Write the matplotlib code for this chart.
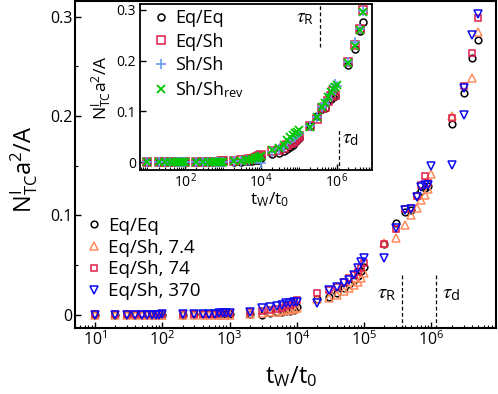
import matplotlib
matplotlib.use('Agg')
import numpy as np
import matplotlib.pyplot as plt
from matplotlib.ticker import (LogLocator, LogFormatterMathtext, FixedLocator,
                               FuncFormatter, NullFormatter)

plt.rcParams['font.family'] = ['Open Sans', 'DejaVu Sans']
plt.rcParams['mathtext.fontset'] = 'stix'

nan = float('nan')

# ---------------- data ----------------
mantissas = [1, 2, 3, 4, 5, 6, 7, 8, 9]
decades = [1, 2, 3, 4, 5]
t_main = [m * 10.0 ** e for e in decades for m in mantissas] + [1e6, 2e6, 3e6, 4e6, 5e6]

eq_eq = [0, 0, 0, 0, 0, 0, 0, 0, 0,
         0, 0, 0.0005, 0.0005, 0.001, 0.001, 0.001, 0.001, 0.001,
         0.001, 0.001, 0.0, 0.002, 0.003, 0.003, 0.004, 0.004, 0.005,
         0.008, 0.016, 0.0184, 0.0224, 0.027, 0.031, 0.035, 0.039, 0.044,
         0.048, 0.071, 0.092, 0.104, 0.106, 0.121, 0.125, 0.128, 0.130,
         nan, 0.192, 0.2235, 0.258, 0.276]

eq_sh_7 = [0, 0, 0, 0, 0, 0, 0, 0, 0,
           0, 0, 0, 0, 0, 0, 0, 0, 0,
           0.0, 0.001, 0.002, 0.003, 0.003, 0.004, 0.005, 0.005, 0.006,
           0.007, 0.016, 0.017, 0.020, 0.024, 0.027, 0.030, 0.033, 0.037,
           0.042, 0.072, 0.077, 0.0905, 0.100, 0.108, 0.116, 0.121, 0.127,
           0.142, 0.200, nan, 0.2385, 0.284]

eq_sh_74 = [0.0005, 0.0005, 0.0005, 0.0005, 0.0005, 0.0005, 0.0005, 0.0005, 0.0005,
            0.0005, 0.0005, 0.001, 0.001, 0.001, 0.001, 0.0015, 0.0015, 0.002,
            0.002, 0.003, 0.004, 0.005, 0.006, 0.007, 0.009, 0.010, 0.012,
            0.015, 0.0218, 0.025, 0.028, 0.0335, 0.037, 0.040, 0.0435, 0.047,
            0.052, 0.071, 0.086, 0.107, 0.108, 0.120, 0.131, 0.1395, 0.133,
            nan, 0.198, 0.230, 0.263, 0.299]

t_370 = t_main + [3e6]
eq_sh_370 = [0, 0, 0, 0, 0, 0, 0, 0, 0,
             0.0005, 0.0005, 0.001, 0.001, 0.001, 0.001, 0.0015, 0.002, 0.002,
             0.002, 0.003, 0.0067, 0.0083, 0.009, 0.0105, 0.0118, 0.0125, 0.013,
             0.0134, 0.0118, 0.025, 0.0285, 0.0318, 0.035, 0.040, 0.047, 0.0536,
             0.057, 0.057, 0.087, 0.1055, 0.107, 0.119, 0.129, 0.131, 0.131,
             0.150, 0.151, 0.228, 0.281, 0.3025, 0.201]

# inset
t_inset = t_main
in_eq_eq = eq_eq
in_eq_sh = eq_sh_74
in_sh_sh = [0, 0, 0, 0, 0, 0, 0, 0, 0,
            0, 0, 0, 0, 0, 0, 0, 0, 0,
            0.001, 0.002, 0.003, 0.004, 0.005, 0.006, 0.007, 0.008, 0.009,
            -0.002, 0.020, 0.026, 0.031, 0.038, 0.043, 0.047, 0.050, 0.054,
            0.058, 0.071, 0.090, 0.108, 0.114, 0.125, 0.135, 0.142, 0.155,
            0.150, 0.198, 0.237, 0.262, 0.297]
in_sh_rev = [0, 0, 0, 0, 0, 0, 0, 0, 0,
             0, 0, 0, 0, 0, 0, 0, 0, 0,
             0.001, 0.002, 0.003, 0.004, 0.005, 0.007, 0.008, 0.009, 0.010,
             0.012, 0.024, 0.028, 0.034, 0.044, 0.049, 0.054, 0.058, 0.060,
             0.064, 0.070, 0.090, 0.109, 0.116, 0.129, 0.139, 0.145, 0.148,
             0.152, 0.196, 0.228, 0.260, 0.2965]

tau_R = 3.6e5
tau_d = 1.15e6

main_labels = ['Eq/Eq', 'Eq/Sh, 7.4', 'Eq/Sh, 74', 'Eq/Sh, 370']
inset_labels = ['Eq/Eq', 'Eq/Sh', 'Sh/Sh', r'Sh/Sh$_{\mathregular{rev}}$']

c_black = 'black'
c_orange = '#FF8C5C'
c_red = '#DC1E4B'
c_blue = '#0A0AF0'
c_cblue = '#6A9AF0'
c_green = '#00C800'

W, H = 498, 394
fig = plt.figure(figsize=(W / 100, H / 100), dpi=100)

def px_axes(x0, y0, x1, y1):
    return [x0 / W, 1 - y1 / H, (x1 - x0) / W, (y1 - y0) / H]

yfmt = FuncFormatter(lambda v, p: '0' if abs(v) < 1e-9 else f'{v:g}')

ax = fig.add_axes(px_axes(75, 1, 496, 328))
ax.set_xscale('log')
ax.set_xlim(5.05, 9.1e6)
ax.set_ylim(-0.0131, 0.3156)

mk = dict(linestyle='none', mfc='none', mew=1.1)
ax.plot(t_main, eq_eq, marker='o', ms=4.8, mec=c_black, label=main_labels[0], **mk)
ax.plot(t_main, eq_sh_7, marker='^', ms=5.5, mec=c_orange, label=main_labels[1], **mk)
ax.plot(t_main, eq_sh_74, marker='s', ms=5, mec=c_red, label=main_labels[2], **mk)
ax.plot(t_370, eq_sh_370, marker='v', ms=5.5, mec=c_blue, label=main_labels[3], **mk)

ax.plot([tau_R, tau_R], [-0.02, 0.042], ls=(0, (3, 2)), color='black', lw=0.9)
ax.plot([tau_d, tau_d], [-0.02, 0.042], ls=(0, (3, 2)), color='black', lw=0.9)
ax.annotate(r'$\tau_{\mathregular{R}}$', xy=(tau_R, 0.022), xytext=(-4, 0),
            textcoords='offset points', ha='right', va='center', fontsize=15)
ax.annotate(r'$\tau_{\mathregular{d}}$', xy=(tau_d, 0.022), xytext=(5, 0),
            textcoords='offset points', ha='left', va='center', fontsize=15)

ax.xaxis.set_major_locator(FixedLocator([1e1, 1e2, 1e3, 1e4, 1e5, 1e6]))
ax.xaxis.set_minor_locator(LogLocator(base=10, subs=range(2, 10), numticks=20))
ax.xaxis.set_major_formatter(LogFormatterMathtext())
ax.xaxis.set_minor_formatter(NullFormatter())
ax.yaxis.set_major_locator(FixedLocator([0, 0.1, 0.2, 0.3]))
ax.yaxis.set_minor_locator(FixedLocator([0.05, 0.15, 0.25]))
ax.yaxis.set_major_formatter(yfmt)
ax.tick_params(which='both', direction='in', top=False, right=False, labelsize=11.5, pad=2)
ax.tick_params(which='major', length=4.5, width=1)
ax.tick_params(which='minor', length=2.2, width=0.8)
for s in ax.spines.values():
    s.set_linewidth(1.5)

ax.legend(loc='upper left', bbox_to_anchor=(0.0273, 0.34), frameon=False,
          fontsize=13.5, handlelength=0.8, handletextpad=0.36,
          labelspacing=0.2, borderpad=0, borderaxespad=0)

fig.text(24 / W, 1 - 169 / H, r'$\mathregular{N^{I}_{TC}a^{2}/A}$', rotation=90,
         ha='center', va='center', fontsize=17)
fig.text(291 / W, 1 - 377 / H, r'$\mathregular{t_{W}/t_{0}}$',
         ha='center', va='center', fontsize=17)

# ---------------- inset ----------------
ai = fig.add_axes(px_axes(140, 4, 372, 170))
ai.set_xscale('log')
ai.set_xlim(6.5, 8.5e6)
ai.set_ylim(-0.0152, 0.3116)
ai.plot(t_inset, in_eq_eq, marker='o', ms=5, mec=c_black, label=inset_labels[0], **mk)
ai.plot(t_inset, in_eq_sh, marker='s', ms=5.5, mec=c_red, label=inset_labels[1], **mk)
ai.plot(t_inset, in_sh_sh, marker='+', ms=7, mec=c_cblue, linestyle='none', mew=1.2,
        label=inset_labels[2])
ai.plot(t_inset, in_sh_rev, marker='x', ms=5.5, mec=c_green, linestyle='none', mew=1.3,
        label=inset_labels[3])

ai.plot([tau_R, tau_R], [0.2276, 0.4], ls=(0, (3, 2)), color='black', lw=0.9)
ai.plot([tau_d, tau_d], [-0.03, 0.0636], ls=(0, (3, 2)), color='black', lw=0.9)
ai.annotate(r'$\tau_{\mathregular{R}}$', xy=(tau_R, 0.284), xytext=(-4, 0),
            textcoords='offset points', ha='right', va='center', fontsize=14)
ai.annotate(r'$\tau_{\mathregular{d}}$', xy=(tau_d, 0.046), xytext=(2, 0),
            textcoords='offset points', ha='left', va='center', fontsize=14)

ai.xaxis.set_major_locator(FixedLocator([1e2, 1e4, 1e6]))
ai.xaxis.set_minor_locator(LogLocator(base=10, subs=range(1, 10), numticks=30))
ai.xaxis.set_major_formatter(LogFormatterMathtext())
ai.xaxis.set_minor_formatter(NullFormatter())
ai.yaxis.set_major_locator(FixedLocator([0, 0.1, 0.2, 0.3]))
ai.yaxis.set_major_formatter(yfmt)
ai.tick_params(which='both', direction='in', top=False, right=False, labelsize=10)
ai.tick_params(axis='y', pad=3)
ai.tick_params(axis='x', pad=2)
ai.tick_params(which='major', length=4, width=1)
ai.tick_params(which='minor', length=2, width=0.8)
for s in ai.spines.values():
    s.set_linewidth(1.3)

ai.legend(loc='upper left', bbox_to_anchor=(0.058, 0.968), frameon=False,
          fontsize=13, handlelength=0.8, handletextpad=0.39,
          labelspacing=0.3, borderpad=0, borderaxespad=0)

fig.text(102 / W, 1 - 88 / H, r'$\mathregular{N^{I}_{TC}a^{2}/A}$', rotation=90,
         ha='center', va='center', fontsize=12.5)
fig.text(270 / W, 1 - 200 / H, r'$\mathregular{t_{W}/t_{0}}$',
         ha='center', va='center', fontsize=12.5)

fig.savefig('out.png', dpi=100)
